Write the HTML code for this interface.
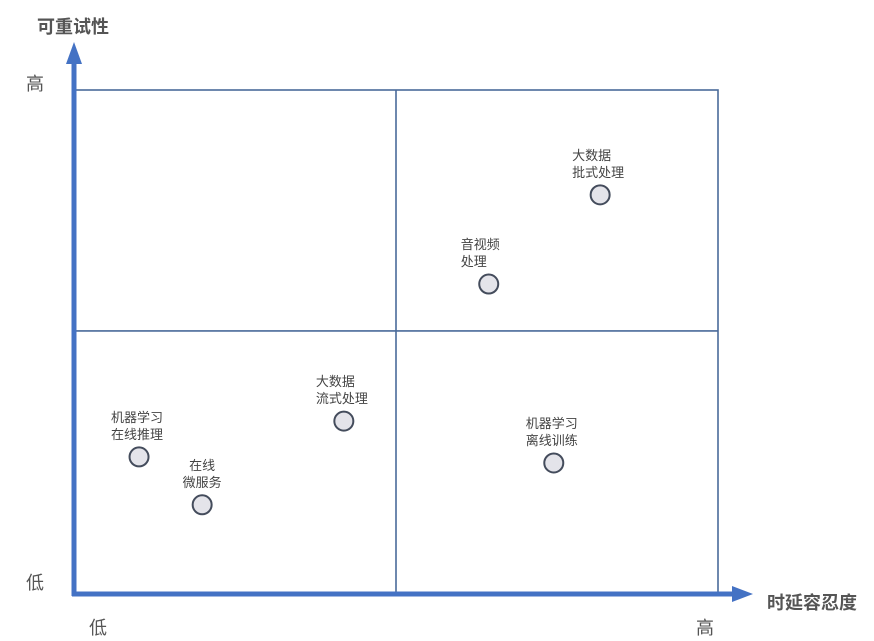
<!DOCTYPE html>
<html><head><meta charset="utf-8"><style>
body{margin:0;background:#fff;width:874px;height:641px;overflow:hidden}
svg{display:block;font-family:"Liberation Sans","Noto Sans CJK SC",sans-serif}
</style></head><body>
<svg width="874" height="641">
<g id="grid"></g>
<g id="axes"></g>
<g id="pts"></g>
</svg>
<script>
const labels=[["大数据","批式处理"],["音视频","处理"],["大数据","流式处理"],["机器学习","在线推理"],["在线","微服务"],["机器学习","离线训练"]];
const latency=[8.17,6.44,4.19,1.01,1.99,7.45];
const retry=[7.92,6.15,3.43,2.72,1.77,2.6];
const centered=[false,false,false,false,true,false];
const dividers=[5,5.22];
const NS="http://www.w3.org/2000/svg";
const X0=74,X1=718,Y0=594,Y1=90;
const xs=v=>X0+v/10*(X1-X0), ys=v=>Y0-v/10*(Y0-Y1);
function mk(t,a,p){const e=document.createElementNS(NS,t);for(const k in a)e.setAttribute(k,a[k]);p.appendChild(e);return e;}
const g=document.getElementById('grid'),ax=document.getElementById('axes'),pg=document.getElementById('pts');
let r=mk('rect',{x:X0,y:Y1,width:X1-X0,height:Y0-Y1,fill:'none',stroke:'#4a6a9a','stroke-width':1.6},g);

let l1=mk('line',{x1:xs(dividers[0]),x2:xs(dividers[0]),y1:Y1,y2:Y0,stroke:'#4a6a9a','stroke-width':1.6},g);

let l2=mk('line',{x1:X0,x2:X1,y1:ys(dividers[1]),y2:ys(dividers[1]),stroke:'#4a6a9a','stroke-width':1.6},g);

let ya=mk('line',{x1:74,x2:74,y1:596,y2:62,stroke:'#4472c4','stroke-width':5},ax);

let yh=mk('polygon',{points:'74,42 66,64 82,64',fill:'#4472c4'},ax);

let xa=mk('line',{x1:72,x2:734,y1:594,y2:594,stroke:'#4472c4','stroke-width':5},ax);

let xh=mk('polygon',{points:'753,594 732,586 732,602',fill:'#4472c4'},ax);

const txts=[["可重试性",37,33,'bold',18,'y-axis-title','#555'],["时延容忍度",767,609,'bold',18,'x-axis-title','#555'],["高",26,90,'normal',18,'y-high-label','#555'],["低",26,589,'normal',18,'y-low-label','#555'],["低",89,634,'normal',18,'x-low-label','#555'],["高",696,634,'normal',18,'x-high-label','#555']];
txts.forEach(t=>{let e=mk('text',{x:t[1],y:t[2],'font-weight':t[3],'font-size':t[4],fill:t[6]},ax);e.textContent=t[0];
});
labels.forEach((lb,i)=>{const cx=xs(latency[i]),cy=ys(retry[i]);
 const grp=mk('g',{},pg);
 lb.forEach((s,j)=>{let t=mk('text',{x:centered[i]?cx:cx-28,y:cy-35+j*17,'font-size':13,fill:'#444','text-anchor':centered[i]?'middle':'start'},grp);t.textContent=s;
 });
 let c=mk('circle',{cx:cx,cy:cy,r:9.5,fill:'#e4e4ea',stroke:'#444c5c','stroke-width':2},grp);
 
});
</script>
</body></html>
